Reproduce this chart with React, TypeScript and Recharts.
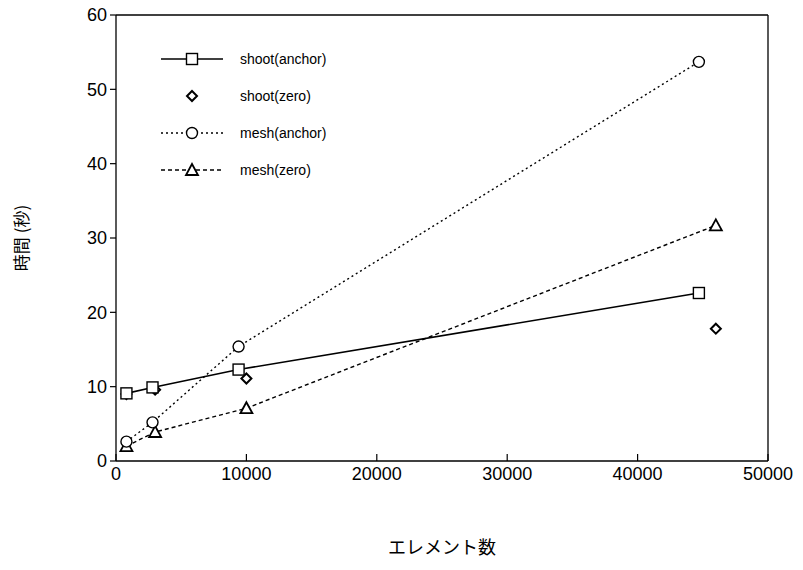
import React from 'react';
import {
  ComposedChart,
  Scatter,
  XAxis,
  YAxis,
  Legend,
  ReferenceLine,
} from 'recharts';

// 要素数と計算時間（秒）
const shootAnchorX = [800, 2800, 9400, 44700];
const shootAnchorY = [9.1, 9.9, 12.3, 22.6];
const shootZeroX = [800, 3000, 10000, 46000];
const shootZeroY = [9.0, 9.6, 11.1, 17.8];
const meshAnchorX = [800, 2800, 9400, 44700];
const meshAnchorY = [2.6, 5.2, 15.4, 53.7];
const meshZeroX = [800, 3000, 10000, 46000];
const meshZeroY = [2.0, 3.9, 7.1, 31.7];

const xTicks = [0, 10000, 20000, 30000, 40000, 50000];
const yTicks = [0, 10, 20, 30, 40, 50, 60];

const toPoints = (xs: number[], ys: number[]) => xs.map((x, i) => ({ x, y: ys[i] }));

const shootAnchor = toPoints(shootAnchorX, shootAnchorY);
const shootZero = toPoints(shootZeroX, shootZeroY);
const meshAnchor = toPoints(meshAnchorX, meshAnchorY);
const meshZero = toPoints(meshZeroX, meshZeroY);

const FONT = '"Liberation Sans", Arial, sans-serif';
const JP_FONT = '"Noto Sans CJK JP", sans-serif';
const X_TICK_MARGIN = 6;

type Kind = 'square' | 'diamond' | 'circle' | 'triangle';

function Marker({ kind, cx, cy }: { kind: Kind; cx: number; cy: number }) {
  const common = { fill: '#fff', stroke: '#000', strokeWidth: 1.4 };
  if (kind === 'square') return <rect x={cx - 5.5} y={cy - 5.5} width={11} height={11} {...common} />;
  if (kind === 'circle') return <circle cx={cx} cy={cy} r={5.5} {...common} />;
  if (kind === 'diamond')
    return (
      <polygon
        points={`${cx},${cy - 5} ${cx + 5},${cy} ${cx},${cy + 5} ${cx - 5},${cy}`}
        {...common}
        strokeWidth={2}
      />
    );
  return (
    <polygon
      points={`${cx},${cy - 6} ${cx + 6},${cy + 5} ${cx - 6},${cy + 5}`}
      {...common}
      strokeWidth={1.8}
    />
  );
}

const shape = (kind: Kind) => (props: any) => <Marker kind={kind} cx={props.cx} cy={props.cy} />;

// x軸の目盛りは内向き
const XTick = (props: any) => {
  const { x, y, payload } = props;
  const axisY = y - X_TICK_MARGIN;
  return (
    <g>
      <line x1={x} x2={x} y1={axisY} y2={axisY - 7} stroke="#000" strokeWidth={1.2} />
      <text x={x} y={y} dy="0.71em" textAnchor="middle" fontSize={18} fontFamily={FONT} fill="#000">
        {payload.value}
      </text>
    </g>
  );
};

const legendItems: { name: string; kind: Kind; dash?: string; line: boolean }[] = [
  { name: 'shoot(anchor)', kind: 'square', line: true },
  { name: 'shoot(zero)', kind: 'diamond', line: false },
  { name: 'mesh(anchor)', kind: 'circle', dash: '2 3', line: true },
  { name: 'mesh(zero)', kind: 'triangle', dash: '4 3', line: true },
];

const renderLegend = () => (
  <div style={{ fontFamily: FONT, fontSize: 14, color: '#000' }}>
    {legendItems.map((item) => (
      <div key={item.name} style={{ display: 'flex', alignItems: 'center', height: 37 }}>
        <svg width={62} height={20}>
          {item.line && (
            <line x1={0} x2={62} y1={10} y2={10} stroke="#000" strokeWidth={1.3} strokeDasharray={item.dash} />
          )}
          <Marker kind={item.kind} cx={31} cy={10} />
        </svg>
        <span style={{ marginLeft: 17 }}>{item.name}</span>
      </div>
    ))}
  </div>
);

export default function App() {
  return (
    <div style={{ position: 'absolute', left: 0, top: 0, width: 803, height: 570, background: '#fff' }}>
      <ComposedChart width={803} height={570} margin={{ top: 15, right: 35, bottom: 79, left: 56 }}>
        <XAxis
          dataKey="x"
          type="number"
          domain={[0, 50000]}
          ticks={xTicks}
          height={30}
          tickLine={false}
          tickSize={0}
          tickMargin={X_TICK_MARGIN}
          tick={<XTick />}
          axisLine={{ stroke: '#000', strokeWidth: 1.3 }}
          allowDataOverflow
          label={{
            value: 'エレメント数',
            position: 'bottom',
            offset: 50,
            style: { fontFamily: JP_FONT, fontSize: 18, fill: '#000' },
          }}
        />
        <YAxis
          dataKey="y"
          type="number"
          domain={[0, 60]}
          ticks={yTicks}
          width={60}
          tickSize={6}
          tickMargin={3}
          tick={{ fontSize: 18, fontFamily: FONT, fill: '#000' }}
          tickLine={{ stroke: '#000', strokeWidth: 1.2 }}
          axisLine={{ stroke: '#000', strokeWidth: 1.3 }}
          label={{
            value: '時間 (秒)',
            angle: -90,
            position: 'left',
            offset: 34,
            style: { fontFamily: JP_FONT, fontSize: 17, fill: '#000', textAnchor: 'middle' },
          }}
        />
        <ReferenceLine y={60} stroke="#000" strokeWidth={1.3} />
        <ReferenceLine x={50000} stroke="#000" strokeWidth={1.3} />
        <Legend
          layout="vertical"
          align="center"
          verticalAlign="middle"
          content={renderLegend}
          wrapperStyle={{ top: 40, left: 161, width: 220 }}
        />
        <Scatter name="shoot(zero)" data={shootZero} shape={shape('diamond')} isAnimationActive={false} />
        <Scatter
          name="shoot(anchor)"
          data={shootAnchor}
          line={{ stroke: '#000', strokeWidth: 1.6 }}
          lineType="joint"
          shape={shape('square')}
          isAnimationActive={false}
        />
        <Scatter
          name="mesh(zero)"
          data={meshZero}
          line={{ stroke: '#000', strokeWidth: 1.4, strokeDasharray: '4 3' }}
          lineType="joint"
          shape={shape('triangle')}
          isAnimationActive={false}
        />
        <Scatter
          name="mesh(anchor)"
          data={meshAnchor}
          line={{ stroke: '#000', strokeWidth: 1.4, strokeDasharray: '2 3' }}
          lineType="joint"
          shape={shape('circle')}
          isAnimationActive={false}
        />
      </ComposedChart>
    </div>
  );
}
